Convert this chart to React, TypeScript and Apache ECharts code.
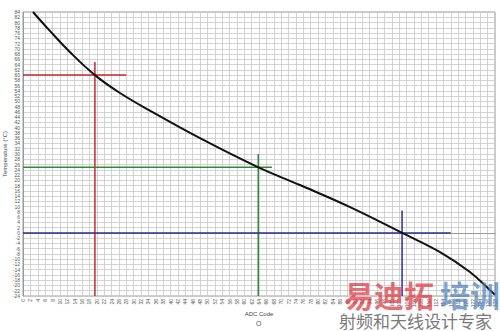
import React, { useEffect, useRef } from "react";
import * as echarts from "echarts";

const adcCodes = [2.7, 7.3, 12.7, 19.5, 26.3, 34.4, 48, 63.7, 75.1, 88.7, 102.8, 113.1, 121.2, 126.6, 128];
const temperatures = [84, 76.8, 68.8, 60, 53.2, 46.5, 36, 25, 18.2, 9.8, 0, -7.3, -14.9, -21.7, -23.5];

const redH = [[0, 60], [28, 60]];
const redV = [[19.5, -24], [19.5, 65]];
const greenH = [[0, 25], [67.5, 25]];
const greenV = [[63.8, -24], [63.8, 30]];
const blueH = [[0, 0], [116, 0]];
const blueV = [[102.8, -24], [102.8, 8.5]];

const xTitle = "ADC Code";
const yTitle = "Temperature (°C)";

export default function App() {
  const ref = useRef<HTMLDivElement>(null);
  useEffect(() => {
    const chart = echarts.init(ref.current!, null, { renderer: "svg" });
    const curve = adcCodes.map((a, i) => [a, temperatures[i]]);
    const lineSeries = (data: number[][], color: string) => ({
      type: "line",
      data,
      symbol: "none",
      lineStyle: { color, width: 1.5 },
      silent: true,
      z: 3,
    });
    chart.setOption({
      animation: false,
      backgroundColor: "#ffffff",
      grid: {
        left: 23, right: 5, top: 12, bottom: 35,
        containLabel: false, outerBoundsMode: "none",
        show: true, borderColor: "#9a9a9a", borderWidth: 1,
      },
      xAxis: {
        type: "value",
        min: 0,
        max: 128,
        interval: 2,
        axisLine: { show: true, lineStyle: { color: "#9a9a9a" } },
        axisTick: { show: false },
        axisLabel: { fontSize: 5, color: "#555", rotate: 90, margin: 3, fontFamily: "Liberation Sans" },
        splitLine: { show: true, lineStyle: { color: "#c8c8c8", width: 0.8 } },
        name: xTitle,
        nameLocation: "middle",
        nameGap: 15,
        nameMoveOverlap: false,
        nameTextStyle: { fontSize: 6, color: "#444", fontFamily: "Liberation Sans" },
      },
      yAxis: {
        type: "value",
        min: -24,
        max: 84,
        interval: 2,
        axisLine: { show: true, lineStyle: { color: "#9a9a9a" } },
        axisTick: { show: false },
        axisLabel: { fontSize: 5, color: "#555", margin: 3, fontFamily: "Liberation Sans" },
        splitLine: { show: true, lineStyle: { color: "#c8c8c8", width: 0.8 } },
        name: yTitle,
        nameLocation: "middle",
        nameGap: 15,
        nameRotate: 90,
        nameMoveOverlap: false,
        nameTextStyle: { fontSize: 6, color: "#444", fontFamily: "Liberation Sans" },
      },
      series: [
        lineSeries(redH, "#c8282c"),
        lineSeries(redV, "#c8282c"),
        lineSeries(greenH, "#2e8b3a"),
        lineSeries(greenV, "#2e8b3a"),
        lineSeries(blueH, "#2a2f9a"),
        lineSeries(blueV, "#2a2f9a"),
        {
          type: "line",
          data: curve,
          smooth: 0.4,
          symbol: "none",
          lineStyle: { color: "#111", width: 2 },
          z: 4,
        },
      ],
      graphic: [
        { type: "text", left: 256, top: 320, style: { text: "O", fontSize: 7, fill: "#555", fontFamily: "Liberation Sans" } },
        {
          type: "text",
          left: 344,
          top: 279,
          z: 10,
          style: { text: "易迪拓", fontSize: 30, lineHeight: 30, fontWeight: "bold", fill: "rgba(225,55,65,0.72)", fontFamily: "Noto Sans CJK SC" },
        },
        {
          type: "text",
          left: 440,
          top: 279,
          z: 10,
          style: { text: "培训", fontSize: 30, lineHeight: 30, fontWeight: "bold", fill: "rgba(80,130,185,0.72)", fontFamily: "Noto Sans CJK SC" },
        },
        {
          type: "text",
          left: 339,
          top: 311,
          z: 10,
          style: { text: "射频和天线设计专家", fontSize: 17, lineHeight: 18, fill: "#7a7a7a", fontFamily: "Noto Sans CJK SC" },
        },
      ],
    });
    return () => chart.dispose();
  }, []);
  return <div ref={ref} style={{ position: "absolute", left: 0, top: 0, width: 500, height: 331 }} />;
}
